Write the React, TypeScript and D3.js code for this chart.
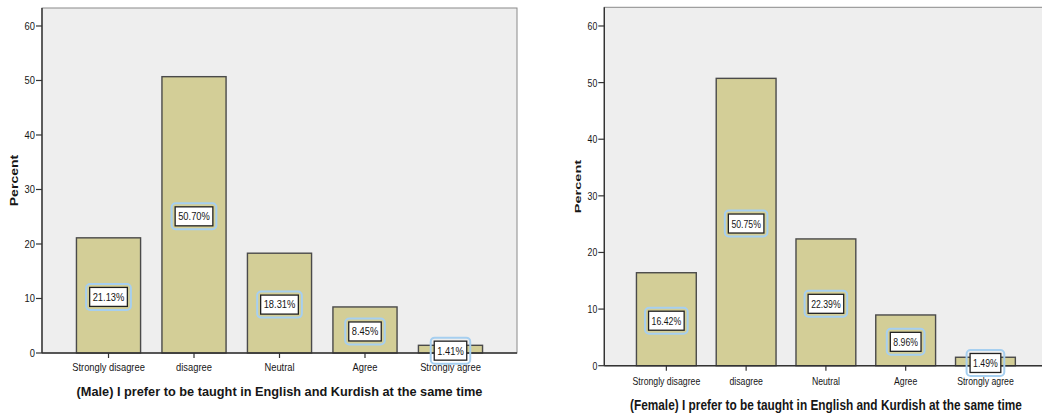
import React from "react";
import * as d3 from "d3";

const categories = ["Strongly disagree", "disagree", "Neutral", "Agree", "Strongly agree"];
const maleValues = [21.13, 50.7, 18.31, 8.45, 1.41];
const femaleValues = [16.42, 50.75, 22.39, 8.96, 1.49];
const yTicks = [0, 10, 20, 30, 40, 50, 60];
const maleTitle = "(Male) I prefer to be taught in English and Kurdish at the same time";
const femaleTitle = "(Female) I prefer to be taught in English and Kurdish at the same time";
const yLabel = "Percent";

type Panel = {
  values: number[];
  title: string;
  x0: number;
  x1: number;
  top: number;
  bottom: number;
  sx: number;
  tickFont: number;
  titleFont: number;
  titleSx: number;
  tickLabelY: number;
  titleY: number;
  yLabelX: number;
  yLabelAlong: number;
};

const panels: Panel[] = [
  {
    values: maleValues, title: maleTitle,
    x0: 42, x1: 517, top: 8, bottom: 353,
    sx: 0.85, tickFont: 11, titleFont: 13.5, titleSx: 0.945,
    tickLabelY: 366.7, titleY: 391.7, yLabelX: 14, yLabelAlong: 1.08,
  },
  {
    values: femaleValues, title: femaleTitle,
    x0: 604.3, x1: 1047.5, top: 7.3, bottom: 365.7,
    sx: 0.765, tickFont: 11.4, titleFont: 14, titleSx: 0.847,
    tickLabelY: 381, titleY: 405, yLabelX: 578, yLabelAlong: 1.12,
  },
];

const widthEm = (s: string) => {
  let w = 0;
  for (const c of s) w += c === "." ? 0.278 : c === "%" ? 0.889 : 0.556;
  return w;
};

function SText(props: {
  x: number; y: number; sx: number; sy?: number; rotate?: number;
  anchor?: string; size: number; weight?: string | number; children: React.ReactNode;
}) {
  const { x, y, sx, sy = 1, rotate = 0, anchor = "middle", size, weight = "normal", children } = props;
  return (
    <g transform={`translate(${x},${y}) rotate(${rotate}) scale(${sx},${sy})`}>
      <text
        textAnchor={anchor}
        dy="0.35em"
        fontFamily="'Liberation Sans', Arial, sans-serif"
        fontSize={size}
        fontWeight={weight}
        fill="#161616"
      >
        {children}
      </text>
    </g>
  );
}

function ChartPanel({ p }: { p: Panel }) {
  const x = d3.scaleBand<string>().domain(categories).range([p.x0, p.x1]).paddingInner(0.25).paddingOuter(0.403);
  const y = d3.scaleLinear().domain([0, 63.3]).range([p.bottom, p.top]);
  const clipId = `clip-${Math.round(p.x0)}`;
  return (
    <g>
      <defs>
        <clipPath id={clipId}>
          <rect x={0} y={0} width={1042} height={418} />
        </clipPath>
      </defs>
      <g clipPath={`url(#${clipId})`}>
        <rect x={p.x0} y={p.top} width={p.x1 - p.x0} height={p.bottom - p.top} fill="#eeeeee" stroke="#8a8a8a" strokeWidth={1} />
        {categories.map((c, i) => {
          const v = p.values[i];
          return (
            <rect key={c} x={x(c)} y={y(v)} width={x.bandwidth()} height={y(0) - y(v)}
              fill="#d3ce97" stroke="#4a4a4a" strokeWidth={1.4} />
          );
        })}
        <line x1={p.x0} x2={p.x0} y1={p.top} y2={p.bottom} stroke="#333" strokeWidth={1.4} />
        <line x1={p.x0} x2={p.x1} y1={p.bottom} y2={p.bottom} stroke="#333" strokeWidth={1.4} />
        {yTicks.map((t) => (
          <g key={t}>
            <line x1={p.x0 - 6} x2={p.x0} y1={y(t)} y2={y(t)} stroke="#333" strokeWidth={1.2} />
            <SText x={p.x0 - 7} y={y(t)} sx={p.sx} anchor="end" size={p.tickFont}>{t}</SText>
          </g>
        ))}
        {categories.map((c) => {
          const mx = (x(c) as number) + x.bandwidth() / 2;
          return (
            <g key={c}>
              <line x1={mx} x2={mx} y1={p.bottom} y2={p.bottom + 5} stroke="#333" strokeWidth={1.2} />
              <SText x={mx} y={p.tickLabelY} sx={p.sx} size={p.tickFont}>{c}</SText>
            </g>
          );
        })}
        {categories.map((c, i) => {
          const v = p.values[i];
          const label = v.toFixed(2) + "%";
          const mx = (x(c) as number) + x.bandwidth() / 2;
          const my = y(v / 2) + 1.5;
          const w = widthEm(label) * p.tickFont * p.sx + 6;
          const h = 19;
          return (
            <g key={"l" + c}>
              <rect x={mx - w / 2 - 3.5} y={my - h / 2 - 3.5} width={w + 7} height={h + 7} rx={4}
                fill="none" stroke="#a6cff0" strokeWidth={2} />
              <rect x={mx - w / 2} y={my - h / 2} width={w} height={h} fill="#ffffff" stroke="#222" strokeWidth={1.3} />
              <SText x={mx} y={my} sx={p.sx} size={p.tickFont}>{label}</SText>
            </g>
          );
        })}
        <SText x={p.yLabelX} y={(p.top + p.bottom) / 2} sx={p.yLabelAlong} sy={p.sx} rotate={-90} size={13} weight="bold">
          {yLabel}
        </SText>
        <SText x={(p.x0 + p.x1) / 2} y={p.titleY} sx={p.titleSx} size={p.titleFont} weight="bold">
          {p.title}
        </SText>
      </g>
    </g>
  );
}

export default function App() {
  return (
    <svg width={1042} height={418} style={{ position: "absolute", left: 0, top: 0, background: "#ffffff" }}>
      <rect x={0} y={0} width={1042} height={418} fill="#ffffff" />
      {panels.map((p, i) => (
        <ChartPanel key={i} p={p} />
      ))}
    </svg>
  );
}
